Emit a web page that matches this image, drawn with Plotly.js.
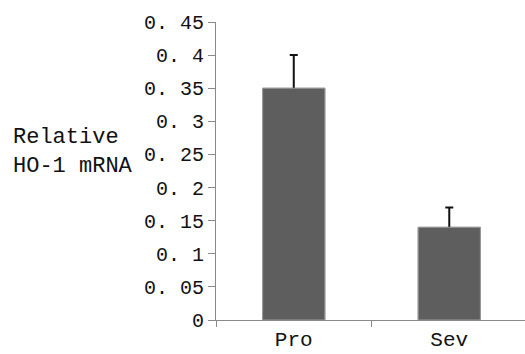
<!DOCTYPE html>
<html>
<head>
<meta charset="utf-8">
<script src="https://cdn.plot.ly/plotly-3.0.1.min.js"></script>
<style>html,body{margin:0;padding:0;background:#fff;}#chart{width:525px;height:354px;}</style>
</head>
<body>
<div id="chart"></div>
<script>
const categories = ["Pro", "Sev"];
const values = [0.35, 0.14];
const errors = [0.05, 0.03];
const yTickVals = [0, 0.05, 0.1, 0.15, 0.2, 0.25, 0.3, 0.35, 0.4, 0.45];
const yTickText = ["0", "0. 05", "0. 1", "0. 15", "0. 2", "0. 25", "0. 3", "0. 35", "0. 4", "0. 45"];
const yTitleLines = ["Relative", "HO-1 mRNA"];

const FONT = "Liberation Mono, DejaVu Sans Mono, monospace";
const barMarker = {color: "#5e5e5e", line: {color: "#9a9a9a", width: 1}};

// bars with error bars (lower half of each whisker is hidden by the bar drawn on top)
const errTrace = {
  type: "bar", x: categories, y: values, width: 0.4, marker: barMarker,
  error_y: {type: "data", array: errors, visible: true, color: "#111", thickness: 2, width: 4},
  hoverinfo: "skip"
};
const barTrace = {
  type: "bar", x: categories, y: values, width: 0.4, marker: barMarker, hoverinfo: "skip"
};

const layout = {
  width: 525, height: 354,
  margin: {l: 216, r: 0, t: 22, b: 34, pad: 0},
  paper_bgcolor: "#fff", plot_bgcolor: "#fff",
  showlegend: false, barmode: "overlay",
  xaxis: {
    type: "category", range: [-0.5, 1.487],
    showline: true, linecolor: "#8a8a8a", linewidth: 1,
    ticks: "outside", tickson: "boundaries", ticklen: 6, tickcolor: "#8a8a8a",
    showgrid: false, zeroline: false,
    tickfont: {family: FONT, size: 21, color: "#111"}
  },
  yaxis: {
    range: [0, 0.45],
    tickvals: yTickVals, ticktext: yTickText,
    showline: true, linecolor: "#8a8a8a", linewidth: 1,
    ticks: "outside", ticklen: 7, tickcolor: "#8a8a8a",
    showgrid: false, zeroline: false,
    tickfont: {family: FONT, size: 20, color: "#111"}
  },
  annotations: [{
    xref: "paper", yref: "paper",
    x: -216/309 + 11/309, y: (354 - 34 - 152) / 298,
    xanchor: "left", yanchor: "middle", align: "left",
    showarrow: false,
    text: yTitleLines.join("<br>"),
    font: {family: FONT, size: 22, color: "#111"}
  }]
};

Plotly.newPlot("chart", [errTrace, barTrace], layout, {displayModeBar: false, staticPlot: true});
</script>
</body>
</html>
